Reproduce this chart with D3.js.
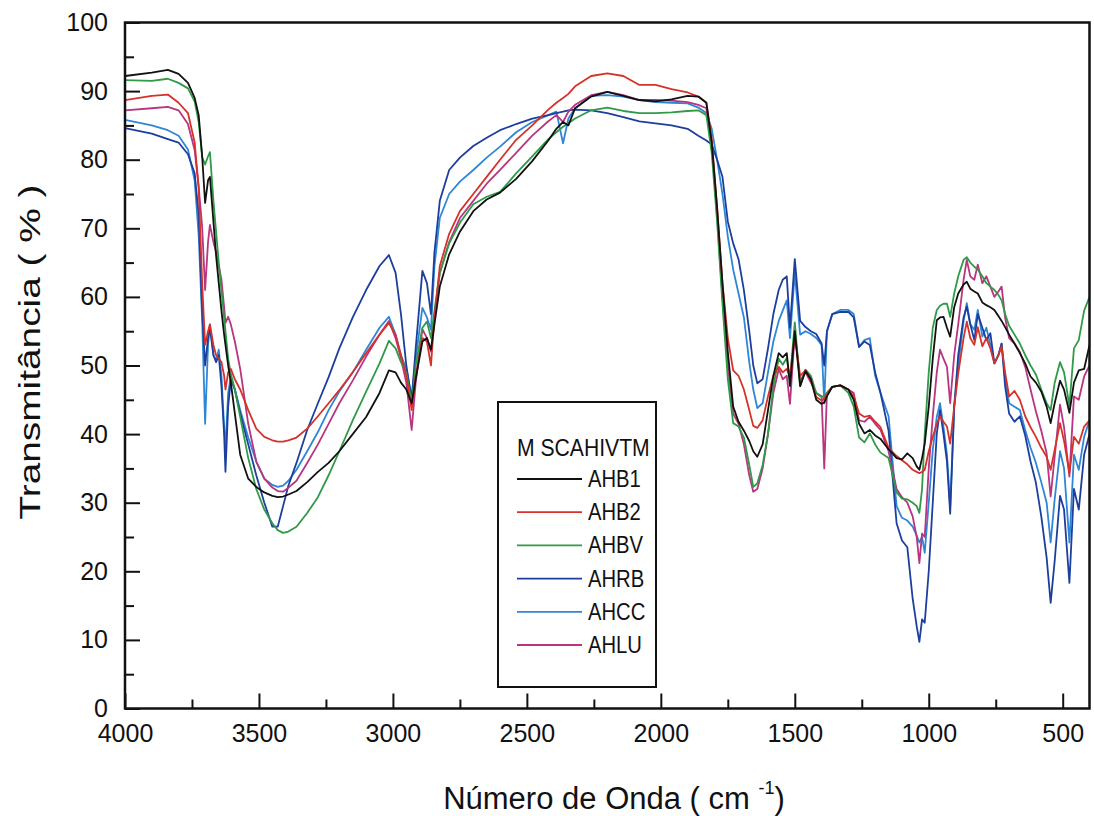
<!DOCTYPE html>
<html>
<head>
  <meta charset="utf-8">
  <title>FTIR</title>
  <script src="https://cdn.jsdelivr.net/npm/d3@7/dist/d3.min.js"></script>
  <style>
    body { margin: 0; background: #ffffff; }
    text { font-family: "Liberation Sans", Arial, sans-serif; fill: #111; }
    .tick text { font-size: 25px; }
    .domain { display: none; }
    .tick line { stroke: #111; stroke-width: 2; }
  </style>
</head>
<body>
<svg width="1094" height="816" id="mainsvg"></svg>
<script>
  // wavenumber grid (cm-1) shared by all spectra
  const waveNumbers = [
    4000, 3900, 3840, 3800, 3765, 3740, 3725, 3712, 3701, 3690,
    3683, 3670, 3660, 3650, 3640, 3630, 3625, 3615, 3605, 3590,
    3570, 3540, 3510, 3480, 3450, 3430, 3410, 3390, 3360, 3320,
    3280, 3240, 3200, 3150, 3100, 3050, 3015, 2990, 2970, 2950,
    2930, 2915, 2890, 2873, 2858, 2845, 2825, 2790, 2750, 2700,
    2650, 2600, 2540, 2480, 2420, 2390, 2365, 2345, 2320, 2260,
    2200, 2140, 2080, 2020, 1960, 1900, 1860, 1830, 1810, 1790,
    1770, 1750, 1730, 1710, 1690, 1670, 1655, 1640, 1620, 1600,
    1580, 1560, 1545, 1530, 1518, 1500, 1480, 1460, 1440, 1420,
    1400, 1390, 1380, 1360, 1330, 1300, 1280, 1260, 1240, 1220,
    1200, 1180, 1150, 1120, 1100, 1080, 1060, 1045, 1035, 1025,
    1015, 1000, 985, 970, 958, 945, 932, 920, 905, 890,
    870, 858, 845, 830, 817, 800, 785, 770, 755, 740,
    728, 715, 700, 680, 660, 640, 620, 600, 580, 560,
    545, 530, 510, 495, 475, 458, 440, 420, 400
  ];

  const ahb1 = [
    92.2, 92.7, 93.1, 92.5, 91.2, 89, 86.5, 80.5, 73.7, 77,
    77.5, 71, 66, 62, 58, 54.5, 53, 50, 47.5, 43,
    37, 33.5, 32.3, 31.5, 31, 30.8, 30.9, 31.2, 31.7, 33,
    34.5, 35.8, 37.5, 40, 42.5, 46, 49.3, 49, 47.5, 46.5,
    44.5, 48, 53.5, 54, 52.3, 56, 61.5, 66.2, 69.5, 72.5,
    74.2, 75.2, 77.2, 79.8, 82.8, 84.5, 85.5, 85, 87.5, 89.2,
    89.9, 89.3, 88.7, 88.5, 88.8, 89.3, 89.2, 88.3, 82.5, 73,
    62, 52, 44, 41.8, 40.5, 39, 37.5, 36.7, 38.5, 43.5,
    48.5, 51.8, 51.2, 51.8, 47, 55, 47, 49.2, 48, 45,
    44.4, 44.6, 45.5, 46.9, 47.1, 46.5, 45, 41.5, 40.1, 40.6,
    39.8, 39.3, 37.8, 36.5, 36.3, 37.2, 36.5, 35.3, 34.8, 36.5,
    38.6, 44, 51, 56.6, 57, 57.1, 55.5, 54.2, 58.5, 60.5,
    61.8, 62.2, 61.2, 60.8, 60.5, 59.2, 58.8, 58.5, 58.1, 57.2,
    56.5, 55.6, 54.5, 53.2, 51.8, 50.3, 48.4, 47.5, 46.2, 44,
    41.6, 44.5, 47.8, 46.5, 43.1, 47.5, 49.3, 49.5, 53
  ];

  const ahb2 = [
    88.7, 89.3, 89.5, 88.3, 86.8, 82.5, 76, 62, 53, 55,
    56, 53, 51.5, 51, 50.5, 48.5, 46.5, 49, 49.5, 48,
    46.5, 43.5, 40.8, 39.6, 39.1, 38.9, 38.9, 39.1, 39.5, 40.8,
    42.6, 44.5, 46.4, 49, 51.8, 54.5, 56.2, 54.5, 51.5, 48.5,
    43.5, 48.5, 54, 53.5, 50, 57, 64.5, 69.2, 72.5, 75,
    77.5, 80, 82.9, 85, 87.3, 88.3, 89, 89.6, 90.7, 92.2,
    92.6, 92.2, 90.9, 90.9, 90.3, 89.8, 89.2, 88.3, 83, 73,
    62, 54, 49.3, 48.5, 46.5, 43.5, 41.2, 40.9, 42, 45.5,
    48.5, 49.8, 49, 49.5, 48.3, 54.5, 48.5, 49.3, 48, 45.4,
    44.9, 45.2, 45.8, 46.9, 47.1, 46.5, 45.5, 43, 42.5, 42.7,
    41.8, 41, 38, 36.8, 36.2, 35.6, 34.8, 34.5, 34.3, 34.5,
    34.8, 37.5, 39.6, 41.5, 42.6, 41.8, 41.1, 38.6, 44, 48.8,
    54, 56.4, 54, 53, 55.6, 52.8, 54, 52.5, 50.3, 51.5,
    52.8, 49, 45.5, 46.3, 45, 42.6, 41, 39.6, 38, 36.7,
    34.8, 37.7, 41.6, 39, 34.3, 39.6, 38.6, 41.1, 42
  ];

  const ahbv = [
    91.6, 91.5, 91.8, 91.2, 90.4, 88.5, 85.5, 80.4, 79.3, 80.5,
    81.1, 74, 69.5, 65, 61, 57, 55, 51, 48.8, 46.5,
    42.5, 36.5, 32, 29, 27, 26, 25.6, 25.8, 26.5, 28.5,
    30.8, 34, 37.5, 42, 46.2, 50.3, 53.6, 52.5, 50.5, 49,
    44.5, 50, 55.5, 56.4, 54, 58, 63.5, 67.8, 70.8, 73.5,
    74.6, 75.3, 78, 80.5, 83, 84, 84.8, 85.3, 86, 87.2,
    87.6, 87.1, 86.8, 86.8, 86.9, 87.1, 87.2, 86.5, 81, 71,
    59, 48, 41.6, 41.1, 39.5, 35.5, 32.3, 32.8, 35.5, 40,
    47, 51, 50.1, 51.1, 48, 56.3, 47, 49.4, 48.5, 46,
    45.4, 45.6, 46, 46.9, 47.1, 46, 44, 39.5, 38.8, 40.1,
    38.5, 37.3, 36.5, 31.5, 30.6, 30.5, 30, 29.5, 28.5, 32,
    40, 49, 55.5, 58.1, 58.7, 59, 59, 57.1, 60.5, 63,
    65.4, 65.8, 65, 64.4, 64, 63, 62, 61.5, 61, 60.3,
    59.5, 57.5, 55.8, 54.5, 53.2, 51.5, 50, 48.7, 46.5, 44.5,
    43.5, 47.5, 50.5, 49, 44.1, 52.5, 53.7, 58, 60
  ];

  const ahrb = [
    84.6, 83.8, 83, 82.5, 80.8, 78, 72, 58, 50, 54,
    55.5, 51.5, 50.5, 51.5, 47, 40, 34.5, 44, 48, 46.5,
    43, 38.5, 34, 30, 26.5, 26.5, 29.5, 32.5, 35.8, 40.6,
    44.5, 48.3, 52.5, 57, 61, 64.5, 66.1, 63.5, 57.5, 50,
    45, 52.5, 63.8, 62, 57.5, 66.5, 74, 78.5, 80.3, 82,
    83.2, 84.3, 85.2, 86, 86.5, 86.8, 87, 87.2, 87.3, 87.2,
    86.8, 86.2, 85.6, 85.3, 85, 84.5, 83.5, 82.8, 82.2, 80,
    77.5, 71, 67.8, 65.5, 61, 55, 50, 47.4, 48, 52.5,
    57.5, 61, 62.5, 63, 55.5, 65.5, 56.5, 55.6, 55, 54.6,
    53.2, 50, 55, 57.5, 57.8, 57.8, 57, 52.7, 53.5, 53,
    49, 46, 40.5, 27, 24.5, 23.5, 16, 12, 9.7, 13,
    12.5, 20, 30, 40.1, 43.5, 40, 36, 28.4, 44, 51.5,
    57, 58.6, 56, 53.7, 57.5, 55.5, 53.7, 54.7, 50.3, 51.5,
    53.2, 47, 43, 41.8, 42.6, 39.8, 36, 32.9, 28, 22,
    15.4, 21.5, 31, 29, 18.3, 32, 29, 37, 40
  ];

  const ahcc = [
    85.8, 85, 84.3, 83.5, 81.5, 77, 69, 56.6, 41.5, 53,
    56, 51.5, 50.8, 52.3, 48.5, 41, 38, 46, 48.3, 46.5,
    43.5, 39.5, 36, 33.5, 32.6, 32.3, 32.5, 33.2, 34.8, 37.5,
    40.3, 43.5, 46.2, 49, 52.3, 55.5, 57.1, 54.5, 51.5, 49.5,
    45.4, 51, 58.4, 57, 55.2, 64.5, 71.5, 75, 76.8, 78.5,
    80.3, 81.9, 84, 85.5, 86.5, 87, 82.4, 86, 87.5, 89.3,
    89.4, 89.2, 88.7, 88.4, 88.3, 88.2, 87.6, 86.8, 84.5, 80,
    75, 68.8, 64, 60.5, 57, 50.5, 46.5, 43.8, 44.5, 49,
    53.5, 56.5, 58, 59.5, 54, 63.5, 54.5, 55, 54.6, 54,
    53, 44.5, 55, 57.5, 58.1, 58.1, 57.5, 52.7, 53.7, 54,
    48.5, 46, 42.6, 29.5, 27.8, 27.4, 26.5, 25.2, 24.2, 25,
    22.7, 30, 37.7, 42.5, 44.5, 41, 37, 29.4, 44, 50,
    56.5, 59.1, 56, 55.2, 58.1, 54.2, 55.5, 53, 50.3, 51.5,
    53.2, 48, 44.5, 44, 43.5, 40.6, 38, 35.8, 33, 30,
    24.2, 30.5, 37.5, 35, 24.2, 37, 34.8, 39.6, 42
  ];

  const ahlu = [
    87.2, 87.5, 87.7, 87.2, 85.2, 81.4, 76, 70.2, 61, 68,
    70.5, 68, 66.5, 64.5, 62.5, 58.5, 56.2, 57.1, 56, 53.5,
    49.5, 41.5, 36, 33.5, 32.2, 31.7, 31.6, 32.2, 33.2, 35.8,
    38.5, 41.5, 44.5, 47.8, 51.3, 54.5, 56.5, 54, 51, 47.5,
    40.6, 47.5, 55.3, 54, 52, 57, 63.5, 68, 71.5, 74,
    76.5, 78.5, 81, 83.5, 85.6, 86.5, 85.5, 87, 88, 89.4,
    89.9, 89.4, 88.7, 88.7, 88.6, 88.4, 88, 87.5, 82, 72,
    60, 50, 43, 41.5, 38.5, 34, 31.6, 32, 35, 40,
    46, 49.5, 48, 48.5, 44.4, 54.7, 47.8, 49, 47.5, 46,
    45.5, 35, 46, 46.9, 47.1, 46.5, 46, 42, 41.8, 42.5,
    41.5, 40.6, 37.5, 32, 30.8, 30, 28, 25, 21.2, 25.5,
    25, 35, 42.6, 49, 52.3, 51, 49.8, 44.5, 51.5, 56,
    62.5, 65.4, 63, 62.5, 64.7, 62, 63, 61.5, 60, 60.8,
    61.5, 57, 54, 53.2, 52, 49.8, 46.5, 43.3, 40.5, 37.2,
    30.9, 36.7, 44.3, 41, 33.8, 45.5, 45, 48.4, 50
  ];

  const seriesNames = ["AHB1", "AHB2", "AHBV", "AHRB", "AHCC", "AHLU"];
  const seriesColors = ["#111111", "#d4322a", "#2f9a47", "#1c3f9e", "#2f86d6", "#b8357f"];
  const seriesValues = [ahb1, ahb2, ahbv, ahrb, ahcc, ahlu];

  const xTicks = [4000, 3500, 3000, 2500, 2000, 1500, 1000, 500];
  const xMinorTicks = [3750, 3250, 2750, 2250, 1750, 1250, 750];
  const yTicks = [0, 10, 20, 30, 40, 50, 60, 70, 80, 90, 100];
  const yMinorTicks = [5, 15, 25, 35, 45, 55, 65, 75, 85, 95];
  const legendTitle = "M SCAHIVTM";

  const svg = d3.select('#mainsvg');
  const width = +svg.attr('width');
  const height = +svg.attr('height');
  const margin = { top: 22.5, right: 4.5, bottom: 107.5, left: 125 };

  const xScale = d3.scaleLinear()
    .domain([4000, 400])
    .range([margin.left, width - margin.right]);
  const yScale = d3.scaleLinear()
    .domain([0, 100])
    .range([height - margin.bottom, margin.top]);

  // spectra, black drawn last so it sits on top
  const line = d3.line()
    .x((d, i) => xScale(waveNumbers[i]))
    .y(d => yScale(d));

  const order = [4, 3, 5, 2, 1, 0];
  svg.append('g').selectAll('path')
    .data(order)
    .enter()
    .append('path')
    .attr('d', k => line(seriesValues[k]))
    .attr('fill', 'none')
    .attr('stroke', k => seriesColors[k])
    .attr('stroke-width', 1.8)
    .attr('stroke-linejoin', 'round');

  // axes, ticks point inward
  svg.append('g')
    .attr('transform', `translate(0, ${yScale(0)})`)
    .call(d3.axisBottom(xScale).tickValues(xTicks).tickSize(-15).tickPadding(16).tickFormat(d3.format('d')));
  svg.append('g')
    .attr('transform', `translate(0, ${yScale(0)})`)
    .call(d3.axisBottom(xScale).tickValues(xMinorTicks).tickSize(-9).tickFormat(''));

  svg.append('g')
    .attr('transform', `translate(${xScale(4000)}, 0)`)
    .call(d3.axisLeft(yScale).tickValues(yTicks).tickSize(-15).tickPadding(17).tickFormat(d3.format('d')));
  svg.append('g')
    .attr('transform', `translate(${xScale(4000)}, 0)`)
    .call(d3.axisLeft(yScale).tickValues(yMinorTicks).tickSize(-9).tickFormat(''));

  svg.selectAll('.tick text').attr('fill', '#111');

  // frame
  svg.append('rect')
    .attr('x', xScale(4000))
    .attr('y', yScale(100))
    .attr('width', xScale(400) - xScale(4000))
    .attr('height', yScale(0) - yScale(100))
    .attr('fill', 'none')
    .attr('stroke', '#111')
    .attr('stroke-width', 2.5);

  // axis titles
  const xTitle = svg.append('text')
    .attr('x', 614)
    .attr('y', 809)
    .attr('text-anchor', 'middle')
    .style('font-size', '31px');
  xTitle.append('tspan').text('Número de Onda ( cm ');
  xTitle.append('tspan').text('-1').style('font-size', '18px').attr('dy', -15);
  xTitle.append('tspan').text(')').attr('dy', 15);

  svg.append('text')
    .attr('transform', 'translate(40, 352) rotate(-90)')
    .attr('text-anchor', 'middle')
    .attr('textLength', 335)
    .attr('lengthAdjust', 'spacingAndGlyphs')
    .style('font-size', '30px')
    .text('Transmitância ( % )');

  // legend
  const legend = svg.append('g').attr('transform', 'translate(498, 402)');
  legend.append('rect')
    .attr('width', 158)
    .attr('height', 285)
    .attr('fill', '#fff')
    .attr('stroke', '#111')
    .attr('stroke-width', 2);
  legend.append('text')
    .attr('transform', 'translate(19, 54) scale(0.92, 1)')
    .style('font-size', '23px')
    .text(legendTitle);
  const rows = legend.selectAll('.row')
    .data(seriesNames)
    .enter()
    .append('g')
    .attr('class', 'row')
    .attr('transform', (d, i) => `translate(0, ${77 + i * 33.2})`);
  rows.append('line')
    .attr('x1', 19).attr('x2', 84)
    .attr('stroke', (d, i) => seriesColors[i])
    .attr('stroke-width', 1.8);
  rows.append('text')
    .attr('transform', 'translate(90, 8) scale(0.88, 1)')
    .style('font-size', '23px')
    .text(d => d);
</script>
</body>
</html>
